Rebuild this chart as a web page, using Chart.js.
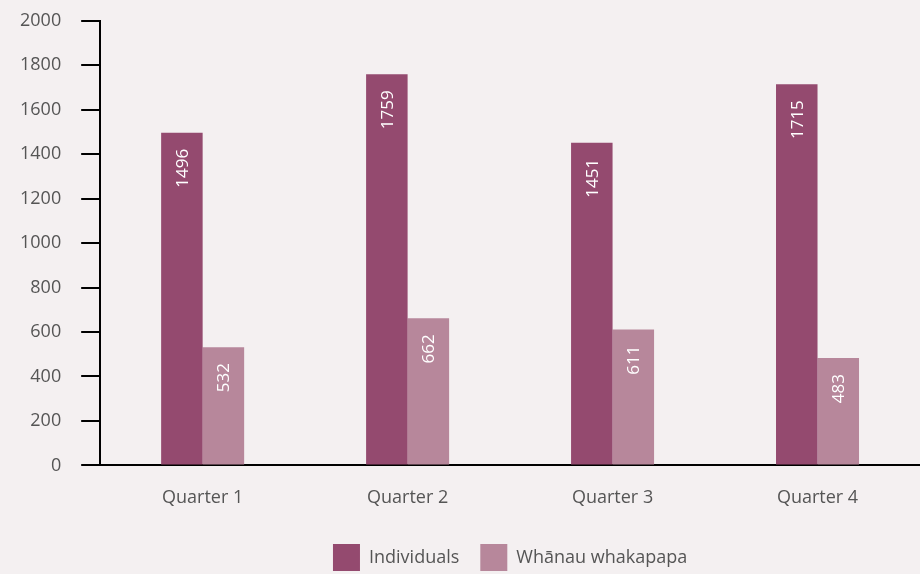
<!DOCTYPE html>
<html>
<head>
<meta charset="utf-8">
<script src="https://cdn.jsdelivr.net/npm/chart.js@4"></script>
<style>
  html, body { margin: 0; padding: 0; background: #f4f0f1; overflow: hidden; }
  #wrap { width: 920px; height: 591px; position: relative; margin-top: -10px; }
</style>
</head>
<body>
<div id="wrap"><canvas id="chart"></canvas></div>
<script>
const quarters = ["Quarter 1", "Quarter 2", "Quarter 3", "Quarter 4"];
const individuals = [1496, 1759, 1451, 1715];
const whanau = [532, 662, 611, 483];

const textColor = "#555555";
const fontFamily = "'Open Sans', 'DejaVu Sans', sans-serif";

// rotated white labels inside the top of each bar
const barLabels = {
    id: "barLabels",
    afterDatasetsDraw(chart) {
        const ctx = chart.ctx;
        chart.data.datasets.forEach((ds, i) => {
            const meta = chart.getDatasetMeta(i);
            meta.data.forEach((bar, j) => {
                ctx.save();
                ctx.translate(bar.x, bar.y + 16);
                ctx.rotate(-Math.PI / 2);
                ctx.fillStyle = "#ffffff";
                ctx.font = "17px " + fontFamily;
                ctx.textAlign = "right";
                ctx.textBaseline = "middle";
                ctx.fillText(String(ds.data[j]), 0, 1);
                ctx.restore();
            });
        });
    }
};

const ctx = document.getElementById("chart").getContext("2d");
new Chart(ctx, {
    type: "bar",
    data: {
        labels: quarters,
        datasets: [
            {
                label: "Individuals",
                data: individuals,
                backgroundColor: "#944a6f",
                barPercentage: 1,
                categoryPercentage: 0.405,
            },
            {
                label: "Whānau whakapapa",
                data: whanau,
                backgroundColor: "#b7879b",
                barPercentage: 1,
                categoryPercentage: 0.405,
            },
        ],
    },
    options: {
        responsive: true,
        maintainAspectRatio: false,
        animation: false,
        layout: { padding: { top: 0, right: 0, left: 0, bottom: 0 } },
        plugins: {
            tooltip: { enabled: false },
            legend: {
                position: "bottom",
                fullSize: false,
                labels: {
                    boxWidth: 27,
                    boxHeight: 27,
                    padding: 21,
                    color: textColor,
                    font: { family: fontFamily, size: 18 },
                },
            },
        },
        scales: {
            x: {
                grid: { display: false },
                border: { display: true, color: "#000000", width: 2 },
                ticks: {
                    color: textColor,
                    font: { family: fontFamily, size: 18 },
                    padding: 14,
                },
            },
            y: {
                min: 0,
                max: 2000,
                grid: {
                    drawOnChartArea: false,
                    drawTicks: true,
                    tickLength: 19,
                    color: "#000000",
                    lineWidth: 2,
                },
                border: { display: true, color: "#000000", width: 2 },
                ticks: {
                    stepSize: 200,
                    color: textColor,
                    font: { family: fontFamily, size: 18 },
                    padding: 20,
                    callback: (v) => String(v),
                },
            },
        },
    },
    plugins: [barLabels],
});
</script>
</body>
</html>
